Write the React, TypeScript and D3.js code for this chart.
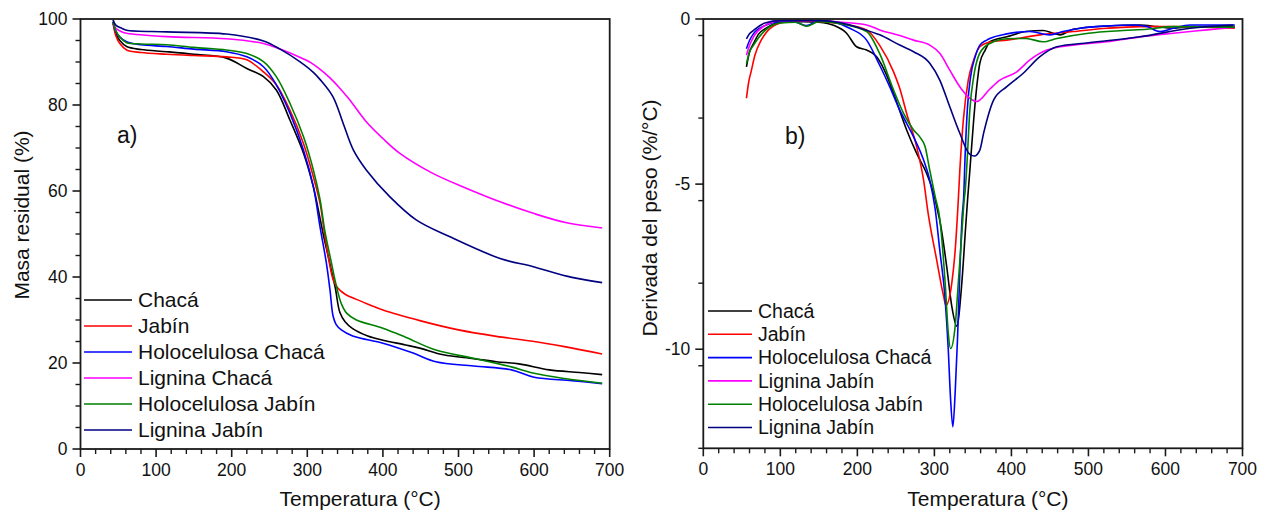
import React from "react";
import * as d3 from "d3";

type P = [number, number];

// ---------- Data: TGA (panel a) ----------
const tgaLabels = ["Chacá", "Jabín", "Holocelulosa Chacá", "Lignina Chacá", "Holocelulosa Jabín", "Lignina Jabín"];
const dtgLabels = ["Chacá", "Jabín", "Holocelulosa Chacá", "Lignina Jabín", "Holocelulosa Jabín", "Lignina Jabín"];
const seriesColors = ["#000000", "#ff0000", "#0000ff", "#ff00ff", "#008000", "#000080"];

const tgaChaca: P[] = [[43,99.4],[47,96.5],[52,95],[61,93.6],[80,92.9],[114,92.4],[150,91.8],[193,90.9],[220,88.5],[242,86.6],[259,83.5],[277,76.5],[295,68.8],[308,61],[317,53.5],[321,50],[330,43],[337,37.5],[343,31.8],[350,29.6],[360,28],[380,26.3],[400,25.3],[430,24.2],[450,23.4],[480,21.9],[520,21],[550,20.3],[580,19.8],[620,18.4],[660,17.8],[690,17.3]];
const tgaJabin: P[] = [[43,99],[47,96],[52,94.3],[61,92.8],[80,92.2],[114,91.8],[150,91.5],[193,91.2],[220,90.5],[242,87.7],[259,84.7],[277,78.8],[295,71],[308,63.3],[317,57],[322,51],[329,43.5],[334,39.5],[340,37.5],[350,36],[365,34.8],[383,33.5],[400,32.3],[450,29.8],[500,27.7],[550,26.2],[600,25],[640,23.8],[690,22.1]];
const tgaHoloChaca: P[] = [[43,99.3],[47,97],[52,95.8],[61,94.7],[80,94],[114,93.6],[150,93],[193,92.4],[220,91.2],[242,88.9],[259,84.7],[277,78.1],[295,69.5],[308,61],[317,51.5],[325,43.5],[330,37],[334,31],[338,29],[345,27.7],[360,26.3],[400,24.6],[440,22.3],[470,20.3],[520,19.3],[570,18.4],[600,16.7],[650,15.9],[690,15.2]];
const tgaLigChaca: P[] = [[43,99],[47,97.8],[55,97],[61,96.7],[114,95.9],[193,95.4],[242,94.3],[264,93],[290,91.1],[305,89.8],[317,88.3],[330,86.3],[343,83.9],[356,81.2],[378,76.1],[400,72.2],[422,68.8],[466,64.1],[511,60.6],[555,57.5],[599,54.8],[643,52.6],[690,51.4]];
const tgaHoloJabin: P[] = [[43,99.3],[47,97.2],[52,95.8],[61,94.5],[80,94.2],[114,94],[150,93.4],[193,92.8],[220,92],[242,90.1],[259,86.6],[277,80.4],[295,72.6],[308,64.9],[317,57.9],[323,50.9],[332,43.2],[338.7,37.7],[345,33.8],[352,31.6],[365,30],[400,28.1],[430,26],[470,23],[520,21.1],[570,19.1],[600,17.6],[640,16.4],[690,15.3]];
const tgaLigJabin: P[] = [[43,99.8],[47,98.5],[55,97.8],[61,97.4],[114,97],[193,96.5],[242,94.9],[264,93],[290,90.1],[308,87.6],[317,85.9],[334,81.9],[347.5,75.7],[361,69.5],[378,64.9],[409,58.7],[444,53.3],[488,49.4],[555,44.3],[599,42.4],[643,40.2],[690,38.7]];

// ---------- Data: DTG (panel b) ----------
const dtgChaca: P[] = [[56,-1.45],[60,-1.0],[65,-0.75],[72,-0.45],[80,-0.3],[100,-0.1],[130,-0.08],[150,-0.1],[170,-0.2],[186,-0.43],[199,-0.84],[212,-0.94],[225,-1.14],[238,-1.7],[247,-2.25],[264,-3.36],[277,-4.07],[290,-4.68],[299,-5.28],[305,-5.89],[307,-6.1],[316,-7.5],[322.6,-8.7],[329,-9.3],[335.6,-8.0],[340,-6.5],[343,-5.5],[346,-4.6],[351,-3.06],[355,-2.05],[359,-1.34],[366,-0.94],[372,-0.69],[394,-0.54],[419,-0.38],[441,-0.35],[454,-0.43],[463,-0.48],[480,-0.31],[524,-0.21],[567,-0.18],[589,-0.23],[610,-0.28],[632,-0.23],[690,-0.23]];
const dtgJabin: P[] = [[56,-2.4],[59,-1.9],[62,-1.6],[67,-1.1],[75,-0.65],[82,-0.4],[100,-0.12],[120,-0.05],[150,-0.08],[180,-0.15],[212,-0.33],[229,-0.8],[247,-1.6],[255,-2.1],[264,-2.86],[277,-3.87],[286,-4.88],[292,-5.9],[303,-7.3],[312,-8.4],[315,-8.67],[322.6,-8.0],[327,-7.0],[331,-5.5],[333,-4.6],[337.6,-3.06],[344,-1.85],[351,-1.24],[359,-0.84],[372,-0.7],[394,-0.64],[437,-0.48],[480,-0.38],[524,-0.28],[567,-0.23],[610,-0.23],[650,-0.25],[690,-0.28]];
const dtgHoloChaca: P[] = [[56,-0.9],[60,-0.65],[65,-0.45],[80,-0.2],[100,-0.08],[120,-0.1],[134,-0.2],[150,-0.05],[170,-0.1],[190,-0.28],[212,-0.64],[229,-1.4],[242,-2.05],[255,-2.76],[264,-3.16],[273,-3.57],[286,-4.27],[294,-4.88],[301,-5.75],[307,-7.0],[314,-8.5],[318,-10.0],[321,-11.5],[324,-12.35],[327,-11.3],[330,-9.7],[333,-7.7],[336,-6.0],[338,-5.4],[340,-4.07],[343,-2.66],[347,-1.75],[353,-1.14],[359,-0.79],[368,-0.64],[372,-0.59],[394,-0.45],[424,-0.38],[450,-0.48],[467,-0.38],[489,-0.28],[524,-0.21],[559,-0.18],[576,-0.23],[593,-0.38],[610,-0.28],[632,-0.18],[690,-0.18]];
const dtgLigChaca: P[] = [[56,-1.1],[60,-0.8],[65,-0.55],[80,-0.2],[100,-0.05],[150,-0.05],[180,-0.1],[212,-0.18],[229,-0.33],[255,-0.5],[273,-0.64],[294,-0.79],[307,-1.04],[320,-1.55],[333,-2.05],[346,-2.4],[355,-2.5],[372,-2.12],[385,-1.85],[407,-1.6],[424,-1.24],[446,-0.94],[480,-0.79],[524,-0.69],[567,-0.54],[610,-0.43],[654,-0.33],[690,-0.25]];
const dtgHoloJabin: P[] = [[56,-1.35],[60,-1.0],[65,-0.8],[80,-0.35],[100,-0.12],[120,-0.1],[134,-0.22],[150,-0.08],[180,-0.15],[212,-0.38],[229,-1.05],[247,-2.15],[260,-2.86],[273,-3.36],[281,-3.57],[288,-3.87],[294,-4.58],[301,-5.38],[307,-6.05],[314,-8.0],[318,-9.5],[321,-9.98],[327,-9.3],[331,-8.0],[335.6,-6.5],[338.6,-5.5],[340,-5.2],[343,-4.07],[346,-2.76],[351,-1.75],[357,-1.14],[368,-0.79],[372,-0.74],[394,-0.6],[419,-0.59],[441,-0.69],[459,-0.59],[500,-0.43],[545,-0.35],[576,-0.31],[610,-0.23],[690,-0.25]];
const dtgLigJabin: P[] = [[56,-0.6],[60,-0.45],[65,-0.35],[80,-0.12],[100,-0.05],[150,-0.05],[180,-0.12],[204,-0.28],[229,-0.48],[255,-0.79],[273,-0.99],[294,-1.34],[307,-1.85],[320,-2.66],[333,-3.46],[346,-4.1],[352,-4.15],[359,-3.97],[364,-3.45],[377,-2.45],[394,-2.05],[415,-1.65],[437,-1.14],[459,-0.84],[500,-0.72],[567,-0.54],[632,-0.28],[688,-0.18]];

const tgaSeries = [tgaChaca, tgaJabin, tgaHoloChaca, tgaLigChaca, tgaHoloJabin, tgaLigJabin];
const dtgSeries = [dtgChaca, dtgJabin, dtgHoloChaca, dtgLigChaca, dtgHoloJabin, dtgLigJabin];

const xTicks = [0, 100, 200, 300, 400, 500, 600, 700];
const yTicksA = [0, 20, 40, 60, 80, 100];
const yTicksB = [0, -5, -10];

const FONT = "'Liberation Sans', Arial, Helvetica, sans-serif";

interface PanelProps {
  x: d3.ScaleLinear<number, number>;
  y: d3.ScaleLinear<number, number>;
  series: P[][];
  labels: string[];
  yTicks: number[];
  yMinorStep: number;
  yTitle: string;
  yTitleX: number;
  yTitleY: number;
  tag: string;
  tagX: number;
  tagY: number;
  legX: number;
  legY0: number;
  legDy: number;
  legFont: number;
  legLine: number;
  curve: d3.CurveFactory;
}

function Panel(p: PanelProps) {
  const { x, y } = p;
  const [x0, x1] = x.range();
  const [yb, yt] = y.range();
  const [dMin, dMax] = y.domain();
  const line = d3.line<P>().x(d => x(d[0])).y(d => y(d[1])).curve(p.curve);
  const xMinor = d3.range(0, 701, 20).filter(v => v % 100 !== 0);
  const yMinor = d3.range(dMin, dMax + 0.001, p.yMinorStep).filter(v => !p.yTicks.some(t => Math.abs(t - v) < 1e-6));
  const ax = "#1a1a1a";
  return (
    <g>
      {p.series.map((s, i) => (
        <path key={i} d={line(s) || ""} fill="none" stroke={seriesColors[i]} strokeWidth={1.6} strokeLinejoin="round" />
      ))}
      <rect x={x0} y={yt} width={x1 - x0} height={yb - yt} fill="none" stroke={ax} strokeWidth={1.8} />
      {xTicks.map(t => (
        <g key={"xt" + t}>
          <line x1={x(t)} x2={x(t)} y1={yb} y2={yb + 8} stroke={ax} strokeWidth={1.6} />
          <text x={x(t)} y={yb + 27} textAnchor="middle" fontFamily={FONT} fontSize={17.5} fill="#111">{t}</text>
        </g>
      ))}
      {xMinor.map(t => (
        <line key={"xm" + t} x1={x(t)} x2={x(t)} y1={yb} y2={yb + 5} stroke={ax} strokeWidth={1.4} />
      ))}
      {p.yTicks.map(t => (
        <g key={"yt" + t}>
          <line x1={x0 - 8} x2={x0} y1={y(t)} y2={y(t)} stroke={ax} strokeWidth={1.6} />
          <text x={x0 - 13} y={y(t)} dy="0.35em" textAnchor="end" fontFamily={FONT} fontSize={17.5} fill="#111">{t}</text>
        </g>
      ))}
      {yMinor.map(t => (
        <line key={"ym" + t} x1={x0 - 5} x2={x0} y1={y(t)} y2={y(t)} stroke={ax} strokeWidth={1.4} />
      ))}
      <text x={(x0 + x1) / 2 + 15} y={506} textAnchor="middle" fontFamily={FONT} fontSize={21} fill="#111">Temperatura (°C)</text>
      <text transform={`translate(${p.yTitleX},${p.yTitleY}) rotate(-90)`} textAnchor="middle" fontFamily={FONT} fontSize={21} fill="#111">{p.yTitle}</text>
      <text x={p.tagX} y={p.tagY} fontFamily={FONT} fontSize={23} fill="#111">{p.tag}</text>
      {p.labels.map((l, i) => {
        const yy = p.legY0 + i * p.legDy;
        return (
          <g key={"lg" + i}>
            <line x1={p.legX} x2={p.legX + p.legLine} y1={yy} y2={yy} stroke={seriesColors[i]} strokeWidth={1.6} />
            <text x={p.legX + p.legLine + 6} y={yy} dy="0.35em" fontFamily={FONT} fontSize={p.legFont} fill="#111">{l}</text>
          </g>
        );
      })}
    </g>
  );
}

export default function App() {
  const xA = d3.scaleLinear().domain([0, 700]).range([80.5, 609.7]);
  const yA = d3.scaleLinear().domain([0, 100]).range([449, 19]);
  const xB = d3.scaleLinear().domain([0, 700]).range([703.3, 1242.5]);
  const yB = d3.scaleLinear().domain([-13, 0]).range([448.3, 19]);
  return (
    <svg width={1265} height={514} style={{ position: "absolute", left: 0, top: 0, background: "#fff" }}>
      <rect x={0} y={0} width={1265} height={514} fill="#fff" />
      <Panel x={xA} y={yA} series={tgaSeries} labels={tgaLabels} yTicks={yTicksA} yMinorStep={5}
        yTitle="Masa residual (%)" yTitleX={29} yTitleY={215} tag="a)" tagX={117} tagY={143}
        legX={84} legY0={300} legDy={26} legFont={21} legLine={48} curve={d3.curveCatmullRom.alpha(0.5)} />
      <Panel x={xB} y={yB} series={dtgSeries} labels={dtgLabels} yTicks={yTicksB} yMinorStep={2.5}
        yTitle="Derivada del peso (%/°C)" yTitleX={657} yTitleY={218} tag="b)" tagX={785} tagY={144}
        legX={708} legY0={311} legDy={23.3} legFont={19.5} legLine={44} curve={d3.curveMonotoneX} />
    </svg>
  );
}
